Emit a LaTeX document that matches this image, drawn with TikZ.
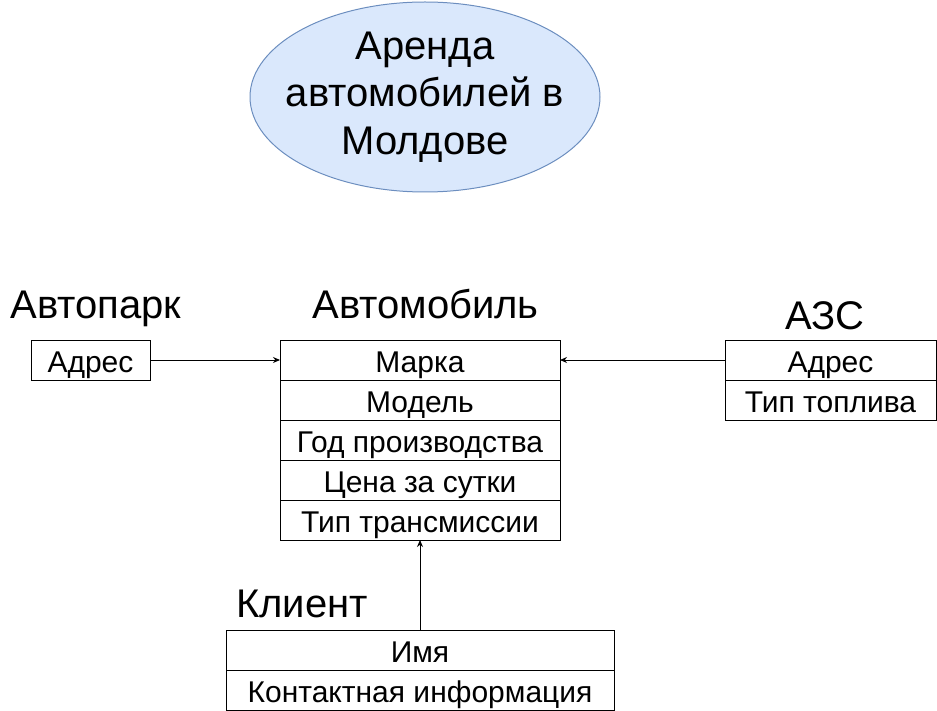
\documentclass[tikz,border=0pt]{standalone}
\usepackage{fontspec}
\setmainfont{Liberation Sans}
\usetikzlibrary{arrows.meta, shapes.geometric, positioning}

\definecolor{ovalfill}{HTML}{DAE8FC}
\definecolor{ovaldraw}{HTML}{6C8EBF}

\begin{document}
\begin{tikzpicture}[
    x=1pt, y=-1pt,
    cell/.style={draw, line width=1pt, inner sep=0pt, outer sep=0pt,
                 minimum height=40pt, text centered, text height=24pt, text depth=0pt,
                 font=\fontsize{30}{34}\selectfont},
    title/.style={inner sep=0pt, anchor=base, font=\fontsize{40}{46}\selectfont},
    arrow/.style={-{Stealth[length=7pt,width=6pt]}, line width=1pt}
]
  \useasboundingbox (0,0) rectangle (937,711);

  % Oval
  \node[ellipse, draw=ovaldraw, fill=ovalfill, line width=1pt,
        minimum width=350pt, minimum height=190pt] (rental) at (425,97) {};
  \node[align=center, font=\fontsize{40}{47.5}\selectfont] (rentaltext) at (rental.center)
      {Аренда\\автомобилей в\\Молдове};

  % Автомобиль
  \node[cell, minimum width=280pt] (brand) at (420,360) {Марка};
  \node[cell, minimum width=280pt, below=0pt of brand] (model) {Модель};
  \node[cell, minimum width=280pt, below=0pt of model] (year) {Год производства};
  \node[cell, minimum width=280pt, below=0pt of year] (price) {Цена за сутки};
  \node[cell, minimum width=280pt, below=0pt of price] (gearbox) {Тип трансмиссии};
  \node[title] (cartitle) at (425.5,319) {Автомобиль};

  % Автопарк
  \node[cell, minimum width=119pt] (parkaddr) at (90.5,360) {Адрес};
  \node[title] (parktitle) at (96,319) {Автопарк};

  % АЗС
  \node[cell, minimum width=211pt] (fueladdr) at (830.5,360) {Адрес};
  \node[cell, minimum width=211pt, below=0pt of fueladdr] (fueltype) {Тип топлива};
  \node[title] (fueltitle) at (825,330) {АЗС};

  % Клиент
  \node[cell, minimum width=388pt] (name) at (420,650) {Имя};
  \node[cell, minimum width=388pt, below=0pt of name] (contact) {Контактная информация};
  \node[title] (clienttitle) at (302,617) {Клиент};

  % Arrows
  \draw[arrow] (parkaddr.east) -- (brand.west);
  \draw[arrow] (fueladdr.west) -- (brand.east);
  \draw[arrow] (name.north) -- (gearbox.south);
\end{tikzpicture}
\end{document}
